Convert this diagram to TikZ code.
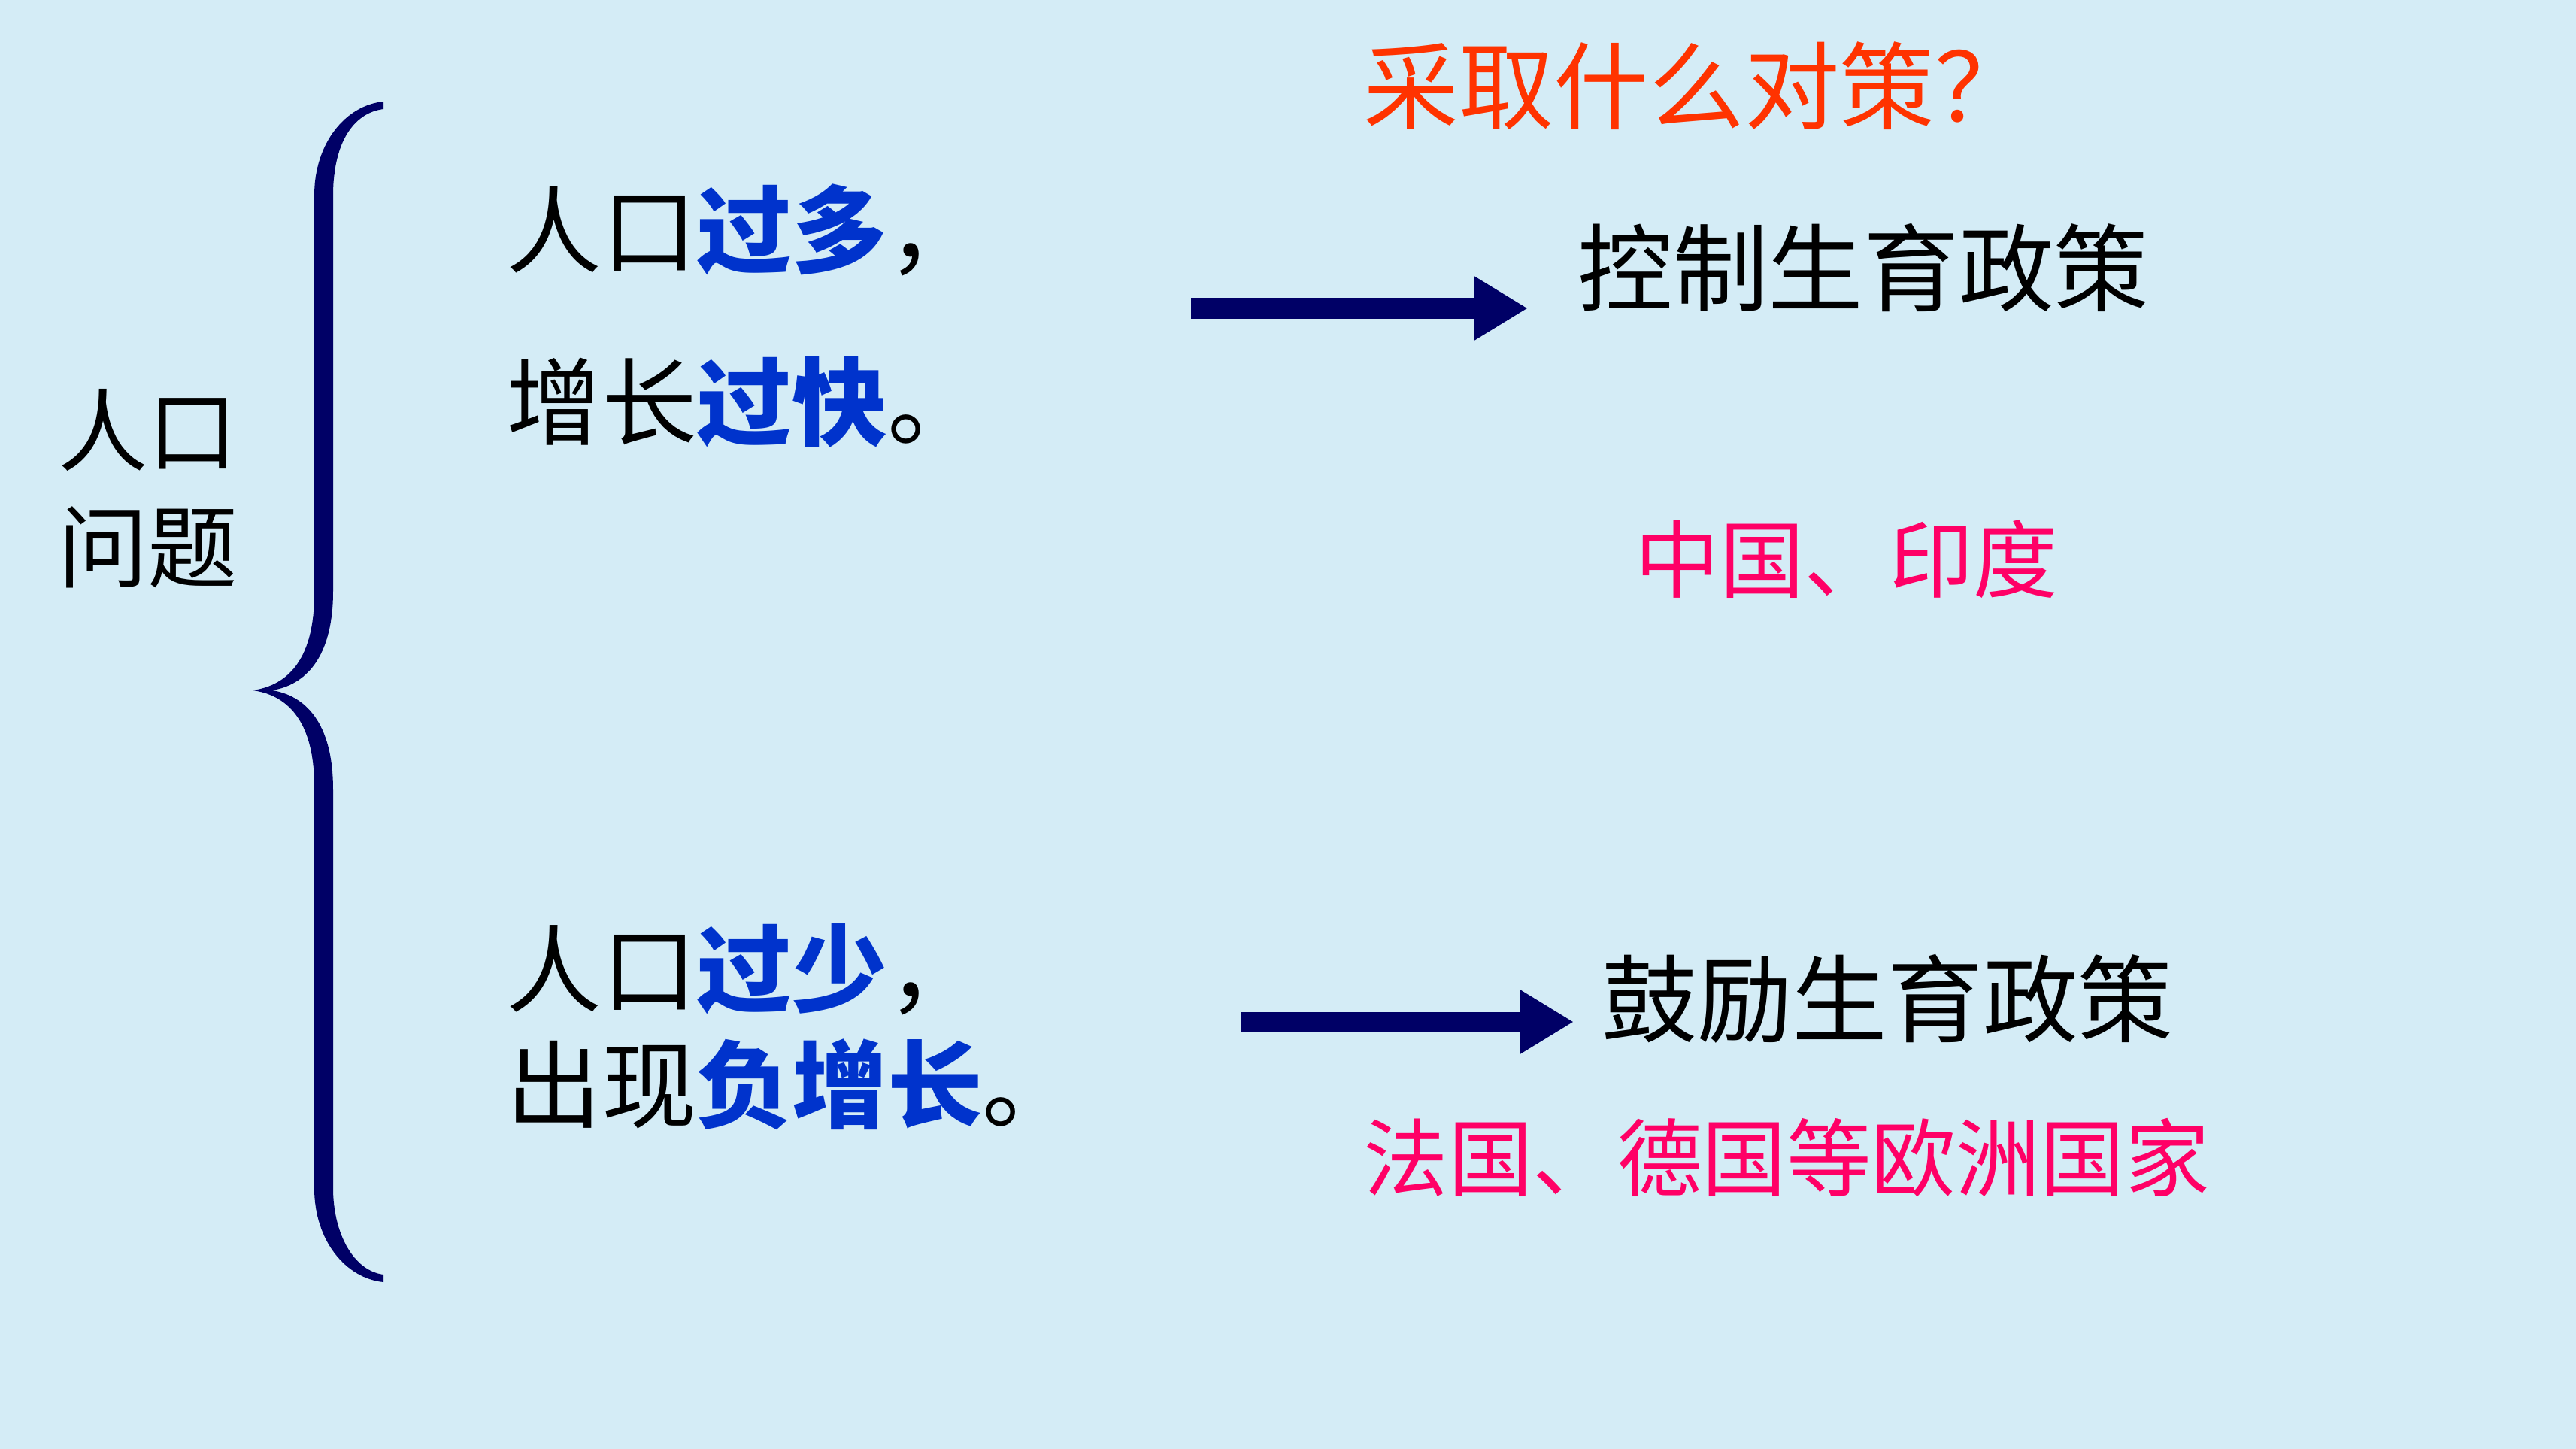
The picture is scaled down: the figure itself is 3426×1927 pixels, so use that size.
\documentclass[tikz,border=0pt]{standalone}
\usepackage{fontspec}
\usepackage{tikz}
\usetikzlibrary{arrows.meta}
\newfontfamily\cjk{Noto Sans CJK SC}
\definecolor{bgblue}{RGB}{212,236,246}
\definecolor{navy}{RGB}{0,0,102}
\definecolor{keyblue}{RGB}{0,51,204}
\definecolor{titlered}{RGB}{255,51,0}
\definecolor{pinkred}{RGB}{255,0,102}
\newcommand{\stress}[1]{{\color{keyblue}\bfseries #1}}

\begin{document}
\begin{tikzpicture}[x=0.01cm,y=-0.01cm,
  line/.style={anchor=west,inner sep=0pt,font=\cjk\fontsize{36}{44}\selectfont},
  note/.style={anchor=west,inner sep=0pt,text=pinkred,font=\cjk\fontsize{32}{40}\selectfont},
  bigarrow/.style={navy,line width=0.27cm,-{Triangle[length=0.71cm 0 0,width=0.8cm 0 0]}}]
  \fill[bgblue] (0,0) rectangle (3426,1927);
  % brace
  \fill[navy] (510,135) .. controls (460,140) and (418,190) .. (418,260)
    -- (418,790) .. controls (418,880) and (380,912) .. (336,918)
    .. controls (380,924) and (418,956) .. (418,1046)
    -- (418,1580) .. controls (418,1650) and (460,1700) .. (510,1705)
    -- (510,1695) .. controls (470,1690) and (443,1640) .. (443,1580)
    -- (443,1050) .. controls (443,960) and (405,925) .. (362,918)
    .. controls (405,911) and (443,876) .. (443,786)
    -- (443,260) .. controls (443,190) and (470,150) .. (510,145) -- cycle;
  \node[align=center,inner sep=0pt,font=\cjk\fontsize{34}{44}\selectfont] (topic) at (197,650) {人口\\问题};
  \node[line,text=titlered] (title) at (1813,114) {采取什么对策？};
  \node[line] (q1a) at (673,306) {人口\stress{过多}，};
  \node[line] (q1b) at (673,535) {增长\stress{过快}。};
  \node[line] (ctrl) at (2098,356) {控制生育政策};
  \node[note] (cn) at (2174,743) {中国、印度};
  \node[line] (q2a) at (673,1289) {人口\stress{过少}，};
  \node[line] (q2b) at (673,1442) {出现\stress{负增长}。};
  \node[line] (enc) at (2130,1328) {鼓励生育政策};
  \node[note] (eu) at (1813,1540) {法国、德国等欧洲国家};
  \coordinate (a1s) at (1584,410);
  \coordinate (a2s) at (1650,1359);
  \draw[bigarrow,shorten >=0.66cm] (a1s) -- (a1s -| ctrl.west);
  \draw[bigarrow,shorten >=0.37cm] (a2s) -- (a2s -| enc.west);
\end{tikzpicture}
\end{document}
